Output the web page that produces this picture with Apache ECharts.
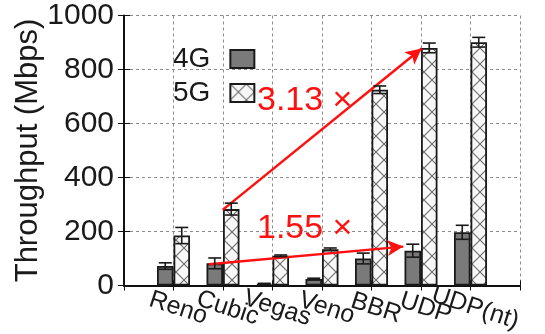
<!DOCTYPE html>
<html>
<head>
<meta charset="utf-8">
<script src="https://cdn.jsdelivr.net/npm/echarts@6/dist/echarts.min.js"></script>
<style>
  html, body { margin: 0; padding: 0; background: #fff; }
  #chart { width: 545px; height: 334px; }
</style>
</head>
<body>
<div id="chart"></div>
<script>
// values (Mbps)
const categories = ['Reno', 'Cubic', 'Vegas', 'Veno', 'BBR', 'UDP', 'UDP(nt)']
const tput4g = [72, 82, 6, 24, 100, 129, 197]
const err4g = [12, 20, 2, 3, 20, 24, 26]
const tput5g = [185, 283, 110, 134, 725, 880, 901]
const err5g = [30, 22, 3, 5, 14, 18, 18]

// annotation arrows, in data units [x, Mbps]
const arrowUpper = [[2.16, 280], [6.18, 878]]
const arrowLower = [[1.88, 79], [5.81, 144]]
const ratioLabels = ['3.13 ×', '1.55 ×']

const textColor = '#1a1a1a'
const font = 'Liberation Sans'
const BAR_W = 16.5

// crosshatch tile for the 5G bars
function hatchTile() {
  const c = document.createElement('canvas')
  c.width = 16
  c.height = 16
  const ctx = c.getContext('2d')
  ctx.fillStyle = '#f7f7f7'
  ctx.fillRect(0, 0, 16, 16)
  ctx.strokeStyle = '#6a6a6a'
  ctx.lineWidth = 1.1
  ctx.beginPath()
  ctx.moveTo(0, 0); ctx.lineTo(16, 16)
  ctx.moveTo(16, 0); ctx.lineTo(0, 16)
  ctx.stroke()
  return c
}

const toXY = (arr) => arr.map((v, i) => [i + 1, v])
const toErr = (vals, errs) => vals.map((v, i) => [i + 1, v, errs[i]])

function errorBars(offset) {
  return function (params, api) {
    const x = api.value(0)
    const m = api.value(1)
    const e = api.value(2)
    const lo = api.coord([x, m - e])
    const hi = api.coord([x, m + e])
    const cx = lo[0] + offset
    const half = 6.5
    const style = { stroke: '#1a1a1a', lineWidth: 1.6 }
    return {
      type: 'group',
      children: [
        { type: 'line', shape: { x1: cx, y1: lo[1], x2: cx, y2: hi[1] }, style },
        { type: 'line', shape: { x1: cx - half, y1: lo[1], x2: cx + half, y2: lo[1] }, style },
        { type: 'line', shape: { x1: cx - half, y1: hi[1], x2: cx + half, y2: hi[1] }, style },
      ],
    }
  }
}

const chart = echarts.init(document.getElementById('chart'), null, { renderer: 'canvas' })

const splitLine = { show: true, lineStyle: { color: '#8c8c8c', type: [3, 3], width: 1 } }

const option = {
  animation: false,
  backgroundColor: '#fff',
  grid: { left: 124, right: 25, top: 15.5, bottom: 48.5, containLabel: false, outerBoundsMode: 'none' },
  legend: {
    data: ['4G', '5G'],
    orient: 'vertical',
    align: 'right',
    icon: 'rect',
    left: 168,
    top: 40,
    itemWidth: 24,
    itemHeight: 18,
    itemGap: 6,
    textStyle: { fontFamily: font, fontSize: 28, color: textColor, padding: [0, 15, 0, 0] },
  },
  xAxis: [
    {
      type: 'value',
      min: 0,
      max: 8,
      interval: 1,
      axisLine: { show: true, onZero: false, lineStyle: { color: '#111', width: 2 } },
      axisTick: { show: true, inside: true, length: 5, lineStyle: { color: '#111' } },
      splitLine,
      axisLabel: {
        fontFamily: font,
        fontSize: 25,
        color: textColor,
        rotate: -18,
        align: 'center',
        verticalAlign: 'top',
        margin: 8,
        padding: [0, 0, 0, 18],
        formatter: (v) => categories[v - 1] || '',
      },
    },
    {
      type: 'value',
      position: 'top',
      min: 0,
      max: 8,
      interval: 1,
      axisLine: { show: false },
      axisTick: { show: true, inside: true, length: 5, lineStyle: { color: '#111' } },
      axisLabel: { show: false },
      splitLine: { show: false },
    },
  ],
  yAxis: [
    {
      type: 'value',
      min: 0,
      max: 1000,
      interval: 200,
      name: 'Throughput (Mbps)',
      nameLocation: 'middle',
      nameGap: 80,
      nameMoveOverlap: false,
      nameTextStyle: { fontFamily: font, fontSize: 31, color: textColor },
      axisLine: { show: true, lineStyle: { color: '#111', width: 2 } },
      axisTick: { show: true, inside: true, length: 6, lineStyle: { color: '#111' } },
      splitLine,
      axisLabel: { fontFamily: font, fontSize: 30, color: textColor, margin: 10, formatter: (v) => String(v) },
    },
    {
      type: 'value',
      position: 'right',
      min: 0,
      max: 1000,
      interval: 200,
      axisLine: { show: false },
      axisTick: { show: true, inside: true, length: 6, lineStyle: { color: '#111' } },
      axisLabel: { show: false },
      splitLine: { show: false },
    },
  ],
  series: [
    {
      name: '4G',
      type: 'bar',
      barWidth: BAR_W,
      barGap: '0%',
      itemStyle: { color: '#7a7a7a', borderColor: '#1a1a1a', borderWidth: 1.8 },
      data: toXY(tput4g),
      markLine: {
        silent: true,
        symbol: ['none', 'arrow'],
        symbolSize: [12, 16],
        label: { show: false },
        lineStyle: { color: '#ff1010', width: 2.5, type: 'solid' },
        data: [
          [{ coord: arrowLower[0] }, { coord: arrowLower[1] }],
          [{ coord: arrowUpper[0] }, { coord: arrowUpper[1] }],
        ],
      },
    },
    {
      name: '5G',
      type: 'bar',
      barWidth: BAR_W,
      barGap: '0%',
      itemStyle: {
        color: { image: hatchTile(), repeat: 'repeat' },
        borderColor: '#1a1a1a',
        borderWidth: 1.8,
      },
      data: toXY(tput5g),
    },
    {
      type: 'custom',
      renderItem: errorBars(-BAR_W / 2),
      encode: { x: 0, y: [1] },
      data: toErr(tput4g, err4g),
      z: 5,
    },
    {
      type: 'custom',
      renderItem: errorBars(BAR_W / 2),
      encode: { x: 0, y: [1] },
      data: toErr(tput5g, err5g),
      z: 5,
    },
  ],
  graphic: [
    {
      type: 'text',
      left: 257,
      top: 84,
      z: 10,
      style: { text: ratioLabels[0], fill: '#ff1010', font: '34px "Liberation Sans"' },
    },
    {
      type: 'text',
      left: 257,
      top: 212,
      z: 10,
      style: { text: ratioLabels[1], fill: '#ff1010', font: '34px "Liberation Sans"' },
    },
  ],
}

chart.setOption(option)
</script>
</body>
</html>
